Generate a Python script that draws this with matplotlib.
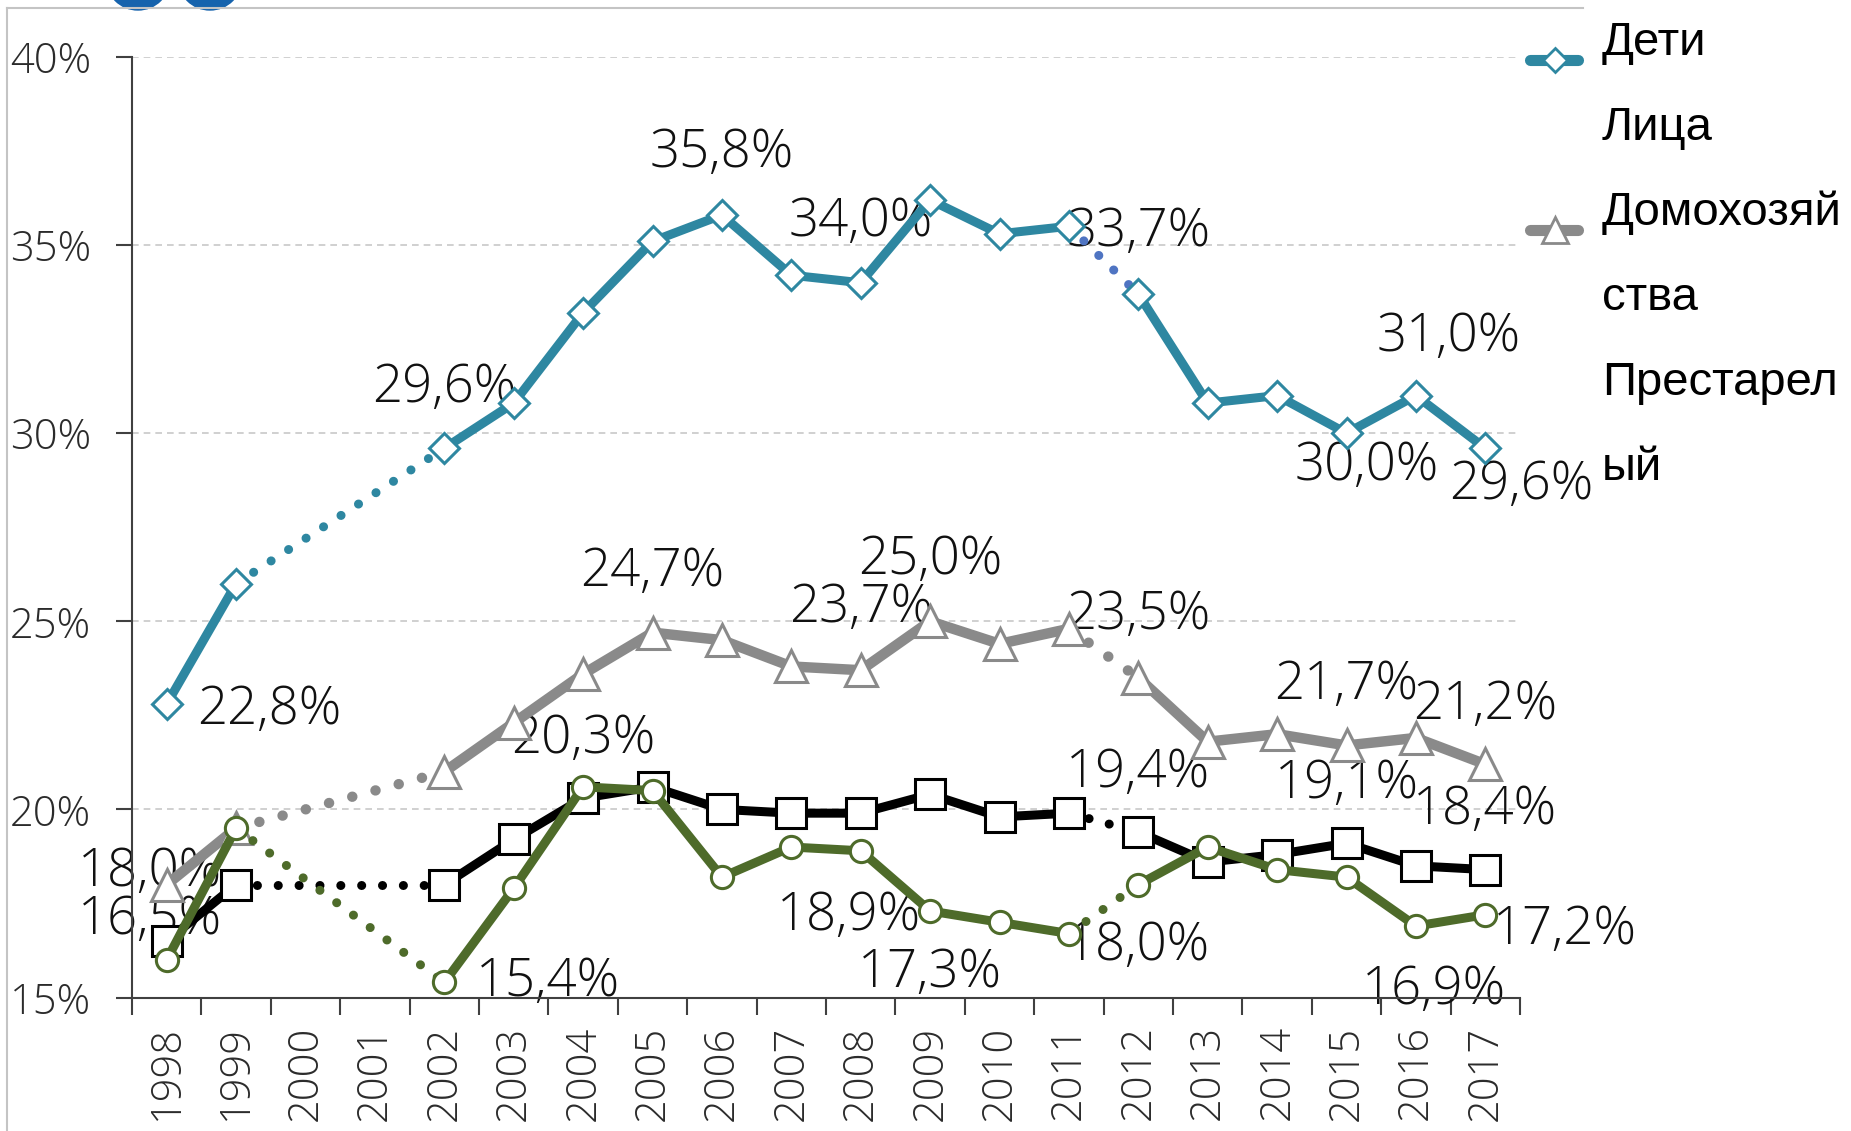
import numpy as np
import matplotlib
matplotlib.use('Agg')
import matplotlib.pyplot as plt
from matplotlib.lines import Line2D
from matplotlib.patches import Circle

# Годы и доли (%), пропуски 2000-2001 - нет данных
years = list(range(1998, 2018))
nan = np.nan
deti = [22.8, 26.0, nan, nan, 29.6, 30.8, 33.2, 35.1, 35.8, 34.2, 34.0, 36.2, 35.3, 35.5,
        33.7, 30.8, 31.0, 30.0, 31.0, 29.6]
litsa = [16.5, 18.0, nan, nan, 18.0, 19.2, 20.3, 20.6, 20.0, 19.9, 19.9, 20.4, 19.8, 19.9,
         19.4, 18.6, 18.8, 19.1, 18.5, 18.4]
domohoz = [18.0, 19.5, nan, nan, 21.0, 22.3, 23.6, 24.7, 24.5, 23.8, 23.7, 25.0, 24.4, 24.8,
           23.5, 21.8, 22.0, 21.7, 21.9, 21.2]
prestar = [16.0, 19.5, nan, nan, 15.4, 17.9, 20.6, 20.5, 18.2, 19.0, 18.9, 17.3, 17.0, 16.7,
           18.0, 19.0, 18.4, 18.2, 16.9, 17.2]
break_after = 2011  # смена методики: 2011 -> 2012 пунктиром

legend_lines = ['Дети', 'Лица', 'Домохозяй', 'ства', 'Престарел', 'ый']

# подписи: (ряд, год) -> смещение подписи в пикселях
label_offsets = {
    ('deti', 1998): (103, -6), ('deti', 2002): (0, 60), ('deti', 2006): (0, 62),
    ('deti', 2008): (0, 60), ('deti', 2012): (0, 62), ('deti', 2016): (33, 58),
    ('deti', 2015): (20, -33), ('deti', 2017): (36, -37),
    ('domohoz', 1998): (-17, 12), ('domohoz', 2005): (0, 60), ('domohoz', 2008): (0, 62),
    ('domohoz', 2009): (0, 61), ('domohoz', 2012): (0, 62), ('domohoz', 2015): (0, 60),
    ('domohoz', 2017): (0, 59),
    ('litsa', 1998): (-17, 21), ('litsa', 2004): (0, 59), ('litsa', 2012): (0, 59),
    ('litsa', 2015): (0, 59), ('litsa', 2017): (0, 59),
    ('prestar', 2002): (104, 0), ('prestar', 2008): (-12, -65), ('prestar', 2009): (0, -62),
    ('prestar', 2012): (0, -62), ('prestar', 2016): (18, -64), ('prestar', 2017): (80, -16),
}

series = {
    'deti': dict(y=deti, color='#2E87A1', marker='D', ms=15, lw=6.5, brk='#4F74C2'),
    'domohoz': dict(y=domohoz, color='#8A8A8A', marker='^', ms=23, lw=7.5, brk='#8A8A8A'),
    'litsa': dict(y=litsa, color='#000000', marker='s', ms=22, lw=6.5, brk='#000000'),
    'prestar': dict(y=prestar, color='#4E6B2A', marker='o', ms=16, lw=6.5, brk='#4E6B2A'),
}

LBL_FONT = dict(family=['Open Sans', 'DejaVu Sans'], weight='light')

W, H = 1851, 1131
fig = plt.figure(figsize=(W / 100, H / 100), dpi=100)
ax = fig.add_axes([132 / W, 1 - 997.5 / H, (1520 - 132) / W, (997.5 - 57) / H])

x = np.arange(len(years))
i_brk = years.index(break_after)
for z, (name, s) in enumerate(series.items()):
    y = np.array(s['y'], dtype=float)
    # сплошные участки (до и после смены методики)
    ax.plot(x[:i_brk + 1], y[:i_brk + 1], color=s['color'], lw=s['lw'],
            solid_capstyle='round', zorder=3 + z)
    ax.plot(x[i_brk + 1:], y[i_brk + 1:], color=s['color'], lw=s['lw'],
            solid_capstyle='round', zorder=3 + z)
    # пунктир через пропуски
    valid = np.where(~np.isnan(y))[0]
    for a, b in zip(valid[:-1], valid[1:]):
        if b - a > 1:
            ax.plot([x[a], x[b]], [y[a], y[b]], color=s['color'], lw=s['lw'],
                    linestyle=(0, (0.01, 2.3)), dash_capstyle='round', zorder=3 + z)
    ax.plot([x[i_brk], x[i_brk + 1]], [y[i_brk], y[i_brk + 1]], color=s['brk'],
            lw=s['lw'], linestyle=(0, (0.01, 2.3)), dash_capstyle='round', zorder=3 + z)
    ax.plot(x, y, linestyle='none', marker=s['marker'], ms=s['ms'], mfc='white',
            mec=s['color'], mew=2.2, zorder=3 + z)

for (name, yr), (dx, dy) in label_offsets.items():
    v = series[name]['y'][years.index(yr)]
    txt = f'{v:.1f}'.replace('.', ',') + '%'
    ax.annotate(txt, (years.index(yr), v), xytext=(dx, dy), textcoords='offset pixels',
                ha='center', va='center', fontsize=38, color='#111111', zorder=2,
                annotation_clip=False, **LBL_FONT)

ax.set_xlim(-0.5, len(years) - 0.5)
ax.set_ylim(15, 40)
ax.set_yticks(np.arange(15, 41, 5))
ax.set_yticklabels([f'{t}%' for t in range(15, 41, 5)], fontsize=30, color='#2b2b2b', **LBL_FONT)
ax.set_xticks(np.arange(-0.5, len(years), 1))
ax.set_xticklabels([])
ax.set_xticks(x, minor=True)
ax.set_xticklabels([str(yv) for yv in years], minor=True, rotation=90, fontsize=30,
                   color='#2b2b2b', **LBL_FONT)
ax.tick_params(axis='y', direction='out', length=11.5, width=1.5, color='#404040', pad=18)
ax.tick_params(axis='x', which='major', direction='out', length=12, width=1.5, color='#404040')
ax.tick_params(axis='x', which='minor', length=0, pad=20)

for sp in ['top', 'right']:
    ax.spines[sp].set_visible(False)
for sp in ['left', 'bottom']:
    ax.spines[sp].set_color('#404040')
    ax.spines[sp].set_linewidth(1.5)
ax.yaxis.grid(True, color='#c8c8c8', linestyle=(0, (4, 3)), lw=1.2)
ax.set_axisbelow(True)

# рамка и логотип
def fx(px):
    return px / W

def fy(py):
    return 1 - py / H

fig.add_artist(Line2D([fx(7), fx(1583)], [fy(8), fy(8)], color='#c4c4c4', lw=1.5))
fig.add_artist(Line2D([fx(7), fx(7)], [fy(8), 0], color='#c4c4c4', lw=1.5))
for cx in (138, 210):
    fig.add_artist(Circle((cx / 100, (H + 22) / 100), 0.32, color='#1663ad',
                          transform=fig.dpi_scale_trans))

# легенда
leg_marks = {0: series['deti'], 2: series['domohoz']}
for i, t in enumerate(legend_lines):
    yy = 43 + 85 * i
    fig.text(fx(1602), fy(yy), t, fontsize=34, family=['Liberation Sans', 'DejaVu Sans'],
             ha='left', va='center', color='black')
    if i in leg_marks:
        s = leg_marks[i]
        fig.add_artist(Line2D([fx(1530), fx(1578)], [fy(yy + 17)] * 2, color=s['color'],
                              lw=8, solid_capstyle='round'))
        fig.add_artist(Line2D([fx(1555)], [fy(yy + 17)], marker=s['marker'],
                              ms=s['ms'] * 0.8, mfc='white', mec=s['color'], mew=2))

fig.savefig('out.png', dpi=100)
